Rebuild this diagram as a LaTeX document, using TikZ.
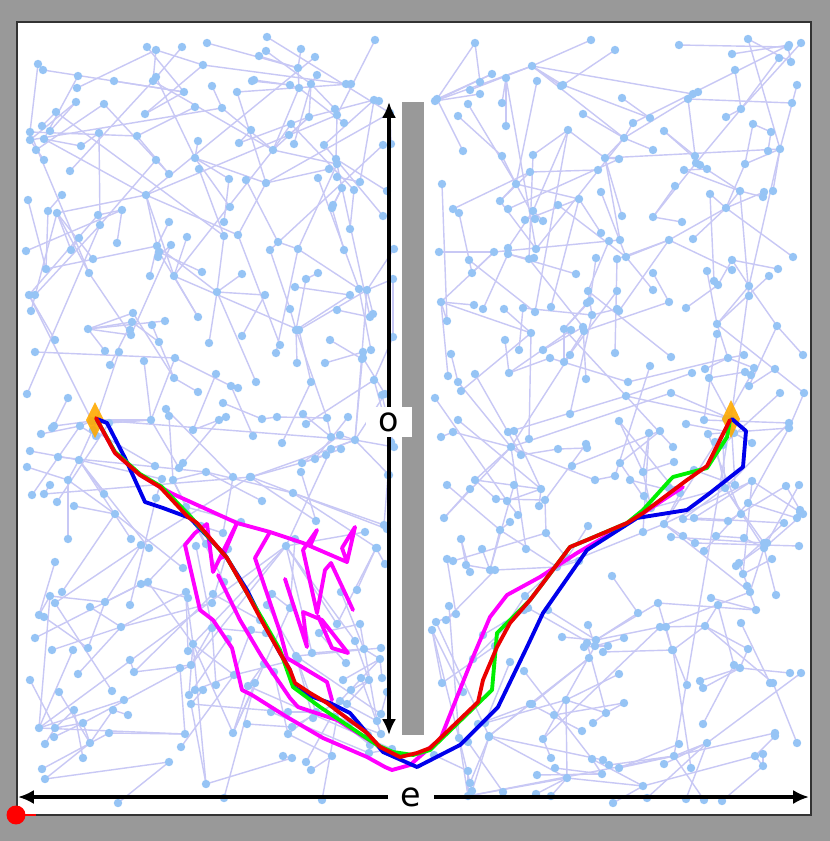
\documentclass[tikz,border=0pt]{standalone}
\usepackage{fontspec}
\setmainfont{DejaVu Sans}
\usetikzlibrary{arrows.meta}
\definecolor{frameg}{RGB}{153,153,153}
\definecolor{nodeb}{RGB}{150,196,245}
\definecolor{edgel}{RGB}{200,200,245}
\definecolor{magen}{RGB}{255,0,255}
\definecolor{orng}{RGB}{255,170,0}
\definecolor{pblue}{RGB}{0,0,235}
\definecolor{pgreen}{RGB}{0,240,0}
\definecolor{pred}{RGB}{235,0,0}
\newcount\rrtK \newcount\rrtD \newcount\rrtBD \newcount\rrtB
\newcommand\growtree[7]{%
 \foreach \i in {1,...,#2}{%
  \pgfmathrandominteger{\sx}{#3}{#4}%
  \pgfmathrandominteger{\sy}{#5}{#6}%
  \rrtBD=100000000 \rrtB=0 \rrtK=0
  \pgfmathtruncatemacro\imax{\i-1}%
  \loop
   \pgfmathrandominteger{\cc}{0}{\imax}%
   \edef\ccx{\csname #1x\cc\endcsname}\edef\ccy{\csname #1y\cc\endcsname}%
   \rrtD=\numexpr(\sx-\ccx)*(\sx-\ccx)+(\sy-\ccy)*(\sy-\ccy)\relax
   \ifnum\rrtD<\rrtBD \rrtBD=\rrtD \rrtB=\cc\relax\fi
   \advance\rrtK by 1
  \ifnum\rrtK<#7 \repeat
  \expandafter\xdef\csname #1x\i\endcsname{\sx}%
  \expandafter\xdef\csname #1y\i\endcsname{\sy}%
  \expandafter\xdef\csname #1p\i\endcsname{\the\rrtB}%
 }}
\newcommand\drawtree[2]{%
 \foreach \i in {0,...,#2}{%
  \edef\xx{\csname #1x\i\endcsname}\edef\yy{\csname #1y\i\endcsname}%
  \coordinate (#1\i) at (\xx,\yy);}%
 \foreach \i in {1,...,#2}{%
  \edef\pp{\csname #1p\i\endcsname}%
  \draw[treeedge] (#1\i) -- (#1\pp);}%
}
\newcommand\drawtreenodes[2]{%
 \foreach \i in {0,...,#2}{\fill[nodeb] (#1\i) circle[radius=2.4pt];}%
}
\begin{document}
\begin{tikzpicture}[x=0.02cm,y=-0.02cm,
  treeedge/.style={edgel,line width=0.8pt},
  pathline/.style={line width=2.2pt,line join=round,line cap=round},
  dimarrow/.style={line width=2.6pt,-{Latex[length=9pt,width=8pt]}},
  dimlabel/.style={fill=white,inner xsep=7pt,inner ysep=3pt,font=\fontsize{19}{22}\selectfont},
  goalmark/.style={fill=orng,opacity=0.9}]
\useasboundingbox (0,0) rectangle (830,841);
\fill[frameg] (0,0) rectangle (830,841);
\fill[white] (17,22) rectangle (811,815);
% trees
\pgfmathsetseed{4242}
\expandafter\xdef\csname Lx0\endcsname{97}
\expandafter\xdef\csname Ly0\endcsname{420}
\expandafter\xdef\csname Rx0\endcsname{731}
\expandafter\xdef\csname Ry0\endcsname{419}
\growtree{L}{370}{26}{396}{36}{806}{25}
\growtree{R}{370}{432}{804}{36}{806}{25}
\drawtree{L}{370}
\drawtree{R}{370}
\drawtreenodes{L}{370}
\drawtreenodes{R}{370}
% wall
\fill[frameg] (402,102) rectangle (424,735);
% start and goal markers
\fill[goalmark] (95,402) -- (104,420) -- (95,438) -- (86,420) -- cycle;
\fill[goalmark] (731,400) -- (740,419) -- (731,438) -- (722,419) -- cycle;
% magenta path
\draw[pathline,magen]
 (97,420) -- (115,453) -- (140,475) -- (160,487) -- (173,494) -- (237,523) -- (270,532) -- (303,543)
 -- (347,562) -- (355,527) -- (342,548) -- (347,562)
 (310,546) -- (317,530) -- (303,550) -- (317,613) -- (325,570) -- (331,563) -- (353,610)
 (207,524) -- (213,572) -- (237,523) -- (222,558)
 (218,575) -- (240,620) -- (262,657) -- (290,698) -- (298,707) -- (337,720) -- (372,742)
 (270,532) -- (255,558) -- (258,567) -- (280,632) -- (287,658) -- (327,682) -- (332,700)
 (285,579) -- (307,647) -- (303,612) -- (322,620) -- (348,653) -- (332,648) -- (318,616)
 (207,524) -- (195,533) -- (185,545) -- (200,610) -- (213,620) -- (232,648) -- (242,690) -- (252,695)
 -- (287,717) -- (323,738) -- (367,757) -- (385,767) -- (392,770) -- (410,765) -- (433,745)
 -- (440,740) -- (457,697) -- (473,657) -- (490,617) -- (507,595) -- (540,577) -- (577,553)
 -- (630,522) -- (663,500) -- (683,487);
% blue path
\draw[pathline,pblue]
 (97,419) -- (107,423) -- (125,458) -- (145,502) -- (163,508) -- (190,518) -- (225,555) -- (247,590)
 -- (263,622) -- (280,653) -- (290,670) -- (295,688) -- (313,697) -- (330,703) -- (350,713)
 -- (367,733) -- (383,752) -- (417,767) -- (460,745) -- (498,707) -- (527,647) -- (543,613)
 -- (587,550) -- (637,518) -- (687,510) -- (710,493) -- (743,467) -- (746,431) -- (732,419);
% green path
\draw[pathline,pgreen]
 (97,420) -- (115,452) -- (140,474) -- (162,487) -- (190,516) -- (227,558) -- (247,593)
 -- (263,620) -- (280,650) -- (293,687) -- (320,707) -- (377,745) -- (393,752) -- (413,755)
 -- (430,750) -- (492,690) -- (497,633) -- (510,620) -- (530,600) -- (543,583) -- (570,547)
 -- (587,540) -- (627,523) -- (643,510) -- (670,480) -- (673,477) -- (707,468) -- (727,437) -- (730,420);
% red path
\draw[pathline,pred]
 (96,418) -- (115,453) -- (140,475) -- (160,487) -- (188,517) -- (197,523) -- (227,558) -- (247,593)
 -- (263,623) -- (280,653) -- (290,670) -- (295,683) -- (310,693) -- (327,703) -- (340,713)
 -- (367,733) -- (380,747) -- (400,757) -- (417,753) -- (430,748) -- (478,702) -- (483,680)
 -- (497,647) -- (510,623) -- (530,600) -- (543,583) -- (570,547) -- (587,540) -- (627,523)
 -- (643,513) -- (687,480) -- (707,466) -- (730,420);
% dimension arrows
\coordinate (otop) at (389,102);
\coordinate (obot) at (389,735);
\coordinate (eleft) at (18,797);
\coordinate (eright) at (809,797);
\node[dimlabel] (olab) at (389,422) {o};
\node[dimlabel] (elab) at (411,797) {e};
\draw[dimarrow] (olab) -- (otop);
\draw[dimarrow] (olab) -- (obot);
\draw[dimarrow] (elab) -- (eleft);
\draw[dimarrow] (elab) -- (eright);
\draw[black!80,line width=1.2pt] (17,22) rectangle (811,815);
% origin marker
\coordinate (orig) at (16,815);
\coordinate (origr) at (36,815);
\draw[red,line width=0.6pt] (orig) -- (origr);
\fill[red] (orig) circle[radius=5.4pt];
\end{tikzpicture}
\end{document}
